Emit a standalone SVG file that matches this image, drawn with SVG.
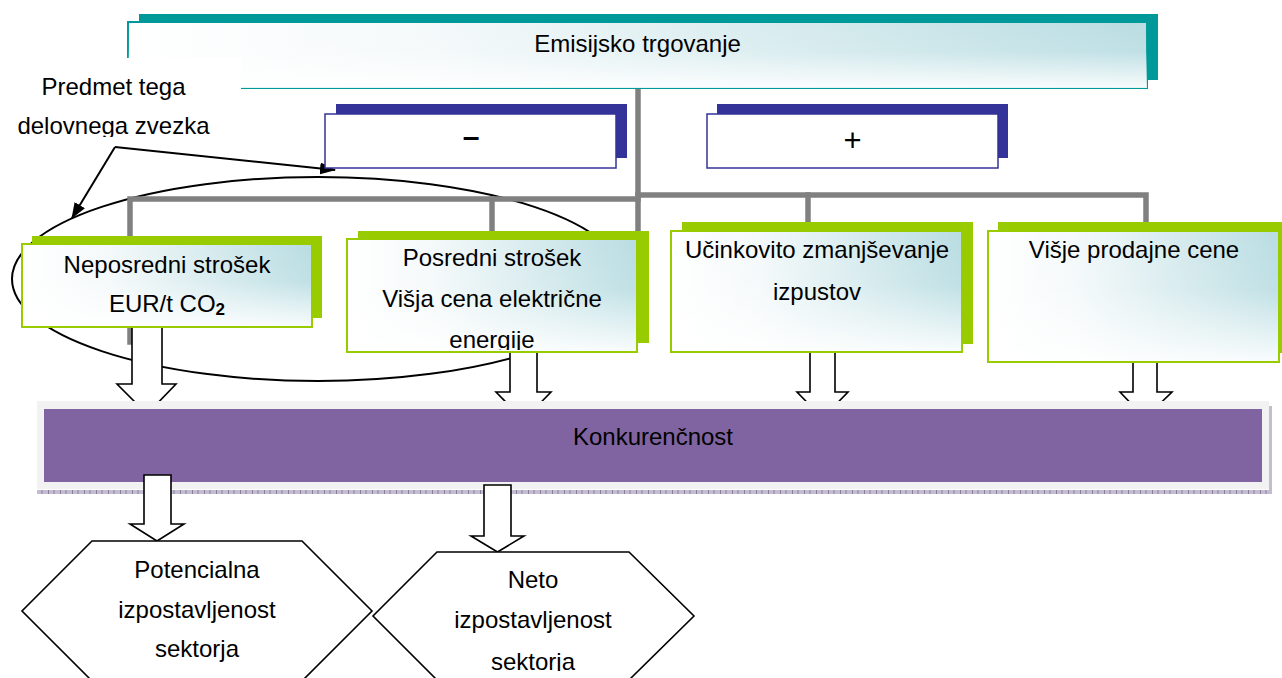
<svg xmlns="http://www.w3.org/2000/svg" width="1282" height="678" viewBox="0 0 1282 678">
<style>
text{font-family:"Liberation Sans",Arial,sans-serif;font-size:24px;fill:#000;text-anchor:middle}
.conn{stroke:#808080;stroke-width:5.5;fill:none;stroke-linecap:square}
.gshadow{fill:#99cc00}
.gbox{stroke:#99cc00;stroke-width:2}
.bshadow{fill:#333399}
.bbox{fill:#fff;stroke:#333399;stroke-width:1.5}
.barrow{fill:#fff;stroke:#000;stroke-width:1.6;stroke-linejoin:miter}
.hex{fill:#fff;stroke:#000;stroke-width:1.6}
.thin{stroke:#000;stroke-width:2;fill:none}
</style>
<defs>
<linearGradient id="gh" x1="0" y1="0" x2="1" y2="0">
<stop offset="0" stop-color="#ffffff"/>
<stop offset="0.3" stop-color="#f4f9fa"/>
<stop offset="1" stop-color="#b9dde2"/>
</linearGradient>
<linearGradient id="gv" x1="0" y1="0" x2="0" y2="1">
<stop offset="0" stop-color="#ffffff" stop-opacity="0"/>
<stop offset="0.45" stop-color="#ffffff" stop-opacity="0.1"/>
<stop offset="1" stop-color="#ffffff" stop-opacity="0.9"/>
</linearGradient>
<pattern id="hatch" width="12" height="6" patternUnits="userSpaceOnUse">
<rect width="12" height="6" fill="#c4bdd2"/>
<rect x="0" width="1" height="6" fill="#8a809e"/>
<rect x="5" width="2" height="6" fill="#a79fbb"/>
</pattern>
<marker id="ah" markerWidth="16" markerHeight="12" refX="15" refY="6" orient="auto" markerUnits="userSpaceOnUse">
<path d="M0,0 L16,6 L0,12 Z" fill="#000"/>
</marker>
<clipPath id="clipLabel"><rect x="0" y="58" width="242" height="79"/></clipPath>
<clipPath id="clipPos"><rect x="340" y="230" width="310" height="120"/></clipPath>
<clipPath id="clipNeto"><rect x="370" y="550" width="330" height="121"/></clipPath>
</defs>

<rect x="0" y="0" width="1282" height="678" fill="#fff"/>

<g id="annotation">
<ellipse cx="318" cy="279" rx="306" ry="102" class="thin"/>
<line x1="115" y1="147" x2="72" y2="218" class="thin" marker-end="url(#ah)"/>
<line x1="115" y1="147" x2="335" y2="170" class="thin" marker-end="url(#ah)"/>
</g>

<g id="connectors">
<path class="conn" d="M638,88 V199"/>
<path class="conn" d="M638,195 H1146 V222"/>
<path class="conn" d="M808,195 V222"/>
<path class="conn" d="M130,342 V199 H638 V235"/>
<path class="conn" d="M492,199 V235"/>
<path class="barrow" d="M132,327 H162 V384 H176 L147,414 L117,384 H132 Z"/>
<path class="barrow" d="M510,351 H537 V392 H551 L523.5,420 L496,392 H510 Z"/>
<path class="barrow" d="M810,352 H835 V392 H848 L822.5,418 L797,392 H810 Z"/>
<path class="barrow" d="M1133,362 H1157 V392 H1172 L1145,418 L1120,392 H1133 Z"/>
</g>

<g id="emisijsko">
<rect x="139" y="14" width="1019" height="66" fill="#009999"/>
<rect x="128" y="22" width="1019" height="66" fill="url(#gh)" stroke="#009999" stroke-width="2"/>
<rect x="128" y="22" width="1019" height="66" fill="url(#gv)"/>
<text x="637.5" y="52">Emisijsko trgovanje</text>
</g>

<g id="label">
<rect x="0" y="58" width="241" height="84" fill="#fff"/>
<g clip-path="url(#clipLabel)">
<text x="113.5" y="95">Predmet tega</text>
<text x="113.5" y="134">delovnega zvezka</text>
</g>
</g>

<g id="minus">
<rect class="bshadow" x="336" y="104" width="291" height="54"/>
<rect class="bbox" x="325" y="114" width="291" height="54"/>
<text x="471" y="147" style="font-size:30px;font-weight:bold">–</text>
</g>

<g id="plus">
<rect class="bshadow" x="717" y="104" width="291" height="54"/>
<rect class="bbox" x="707" y="114" width="291" height="54"/>
<text x="852.5" y="151" style="font-size:31px">+</text>
</g>

<g id="neposredni">
<rect class="gshadow" x="32" y="236" width="290" height="82"/>
<rect class="gbox" x="22" y="244" width="290" height="83" fill="url(#gh)"/>
<rect x="23" y="245" width="288" height="81" fill="url(#gv)"/>
<text x="167" y="273">Neposredni strošek</text>
<text x="167" y="312">EUR/t CO<tspan dy="3" style="font-size:17px;font-weight:bold">2</tspan></text>
</g>

<g id="posredni">
<rect class="gshadow" x="358" y="231" width="291" height="112"/>
<rect class="gbox" x="347" y="239" width="290" height="113" fill="url(#gh)"/>
<rect x="348" y="240" width="288" height="111" fill="url(#gv)"/>
<text x="492" y="266">Posredni strošek</text>
<text x="492" y="307">Višja cena električne</text>
<g clip-path="url(#clipPos)"><text x="492" y="348">energije</text></g>
</g>

<g id="ucinkovito">
<rect class="gshadow" x="682" y="222" width="291" height="122"/>
<rect class="gbox" x="671" y="231" width="291" height="121" fill="url(#gh)"/>
<rect x="672" y="232" width="289" height="119" fill="url(#gv)"/>
<text x="817" y="258">Učinkovito zmanjševanje</text>
<text x="817" y="300">izpustov</text>
</g>

<g id="visje">
<rect class="gshadow" x="998" y="222" width="292" height="131"/>
<rect class="gbox" x="988" y="231" width="291" height="131" fill="url(#gh)"/>
<rect x="989" y="232" width="289" height="129" fill="url(#gv)"/>
<text x="1134" y="258">Višje prodajne cene</text>
</g>

<g id="konkurencnost">
<rect x="37" y="490" width="1235" height="4" fill="url(#hatch)"/>
<rect x="1269" y="406" width="3" height="88" fill="url(#hatch)"/>
<rect x="37" y="401" width="1232" height="88" fill="#f2f2f2"/>
<rect x="44" y="409" width="1218" height="73" fill="#8064a2"/>
<text x="653" y="445">Konkurenčnost</text>
</g>

<g id="connectors-lower">
<path class="barrow" d="M144,475 H171 V524 H184 L157,541 L130,524 H144 Z"/>
<path class="barrow" d="M484,485 H511 V536 H524 L497.5,552 L471,536 H484 Z"/>
</g>

<g id="potencialna">
<path class="hex" d="M92,541 H302 L372,611 L302,681 H92 L22,611 Z"/>
<text x="197" y="578">Potencialna</text>
<text x="197" y="618">izpostavljenost</text>
<text x="197" y="657">sektorja</text>
</g>

<g id="neto">
<path class="hex" d="M437,552 H629 L694,616 L629,680 H437 L373,616 Z"/>
<text x="533" y="588">Neto</text>
<text x="533" y="628">izpostavljenost</text>
<g clip-path="url(#clipNeto)"><text x="533" y="670">sektorja</text></g>
</g>
</svg>
